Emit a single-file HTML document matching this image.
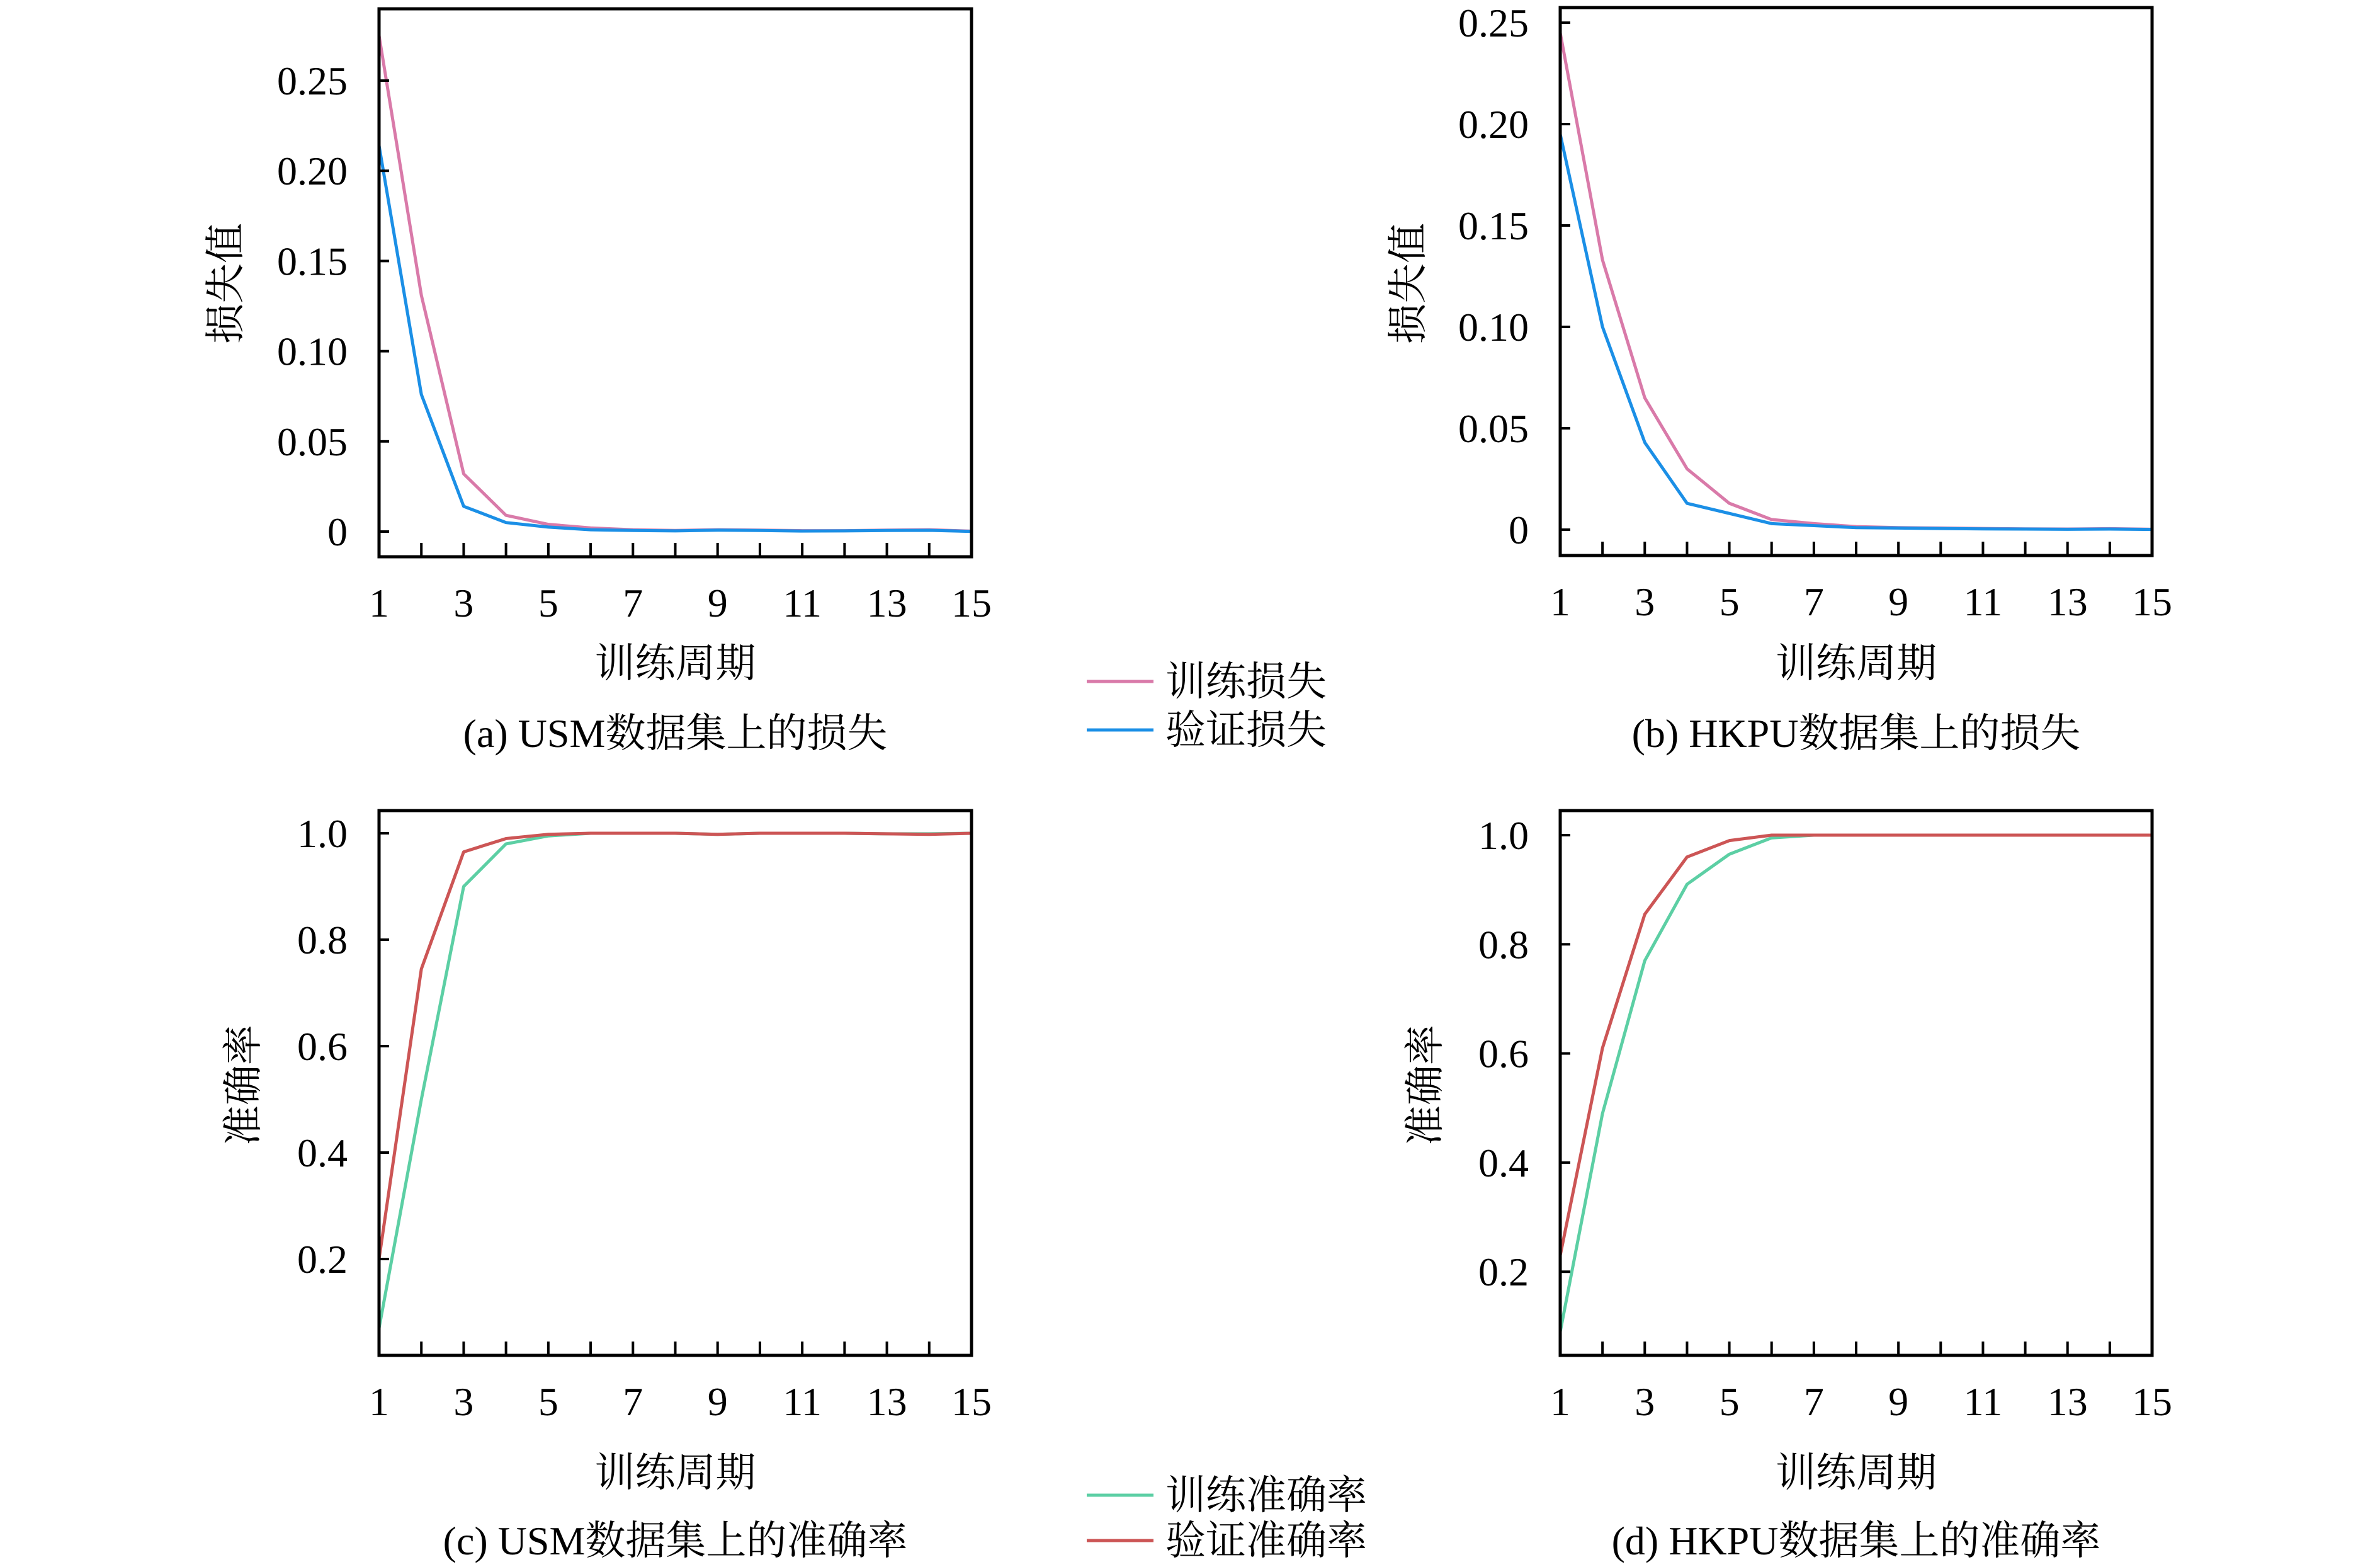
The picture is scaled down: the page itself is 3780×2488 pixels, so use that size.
<!DOCTYPE html>
<html><head><meta charset="utf-8"><style>
html,body{margin:0;padding:0;background:#fff;}
svg text{font-family:"Liberation Serif","Noto Serif CJK SC",serif;fill:#000;}
</style></head><body>
<svg id="s" width="3780" height="2483" xmlns="http://www.w3.org/2000/svg"></svg>
<script>
const S=document.getElementById('s');let h='';
function panel(o){
 const {x0,x1,y0,y1,yv0,pxPer,step,ticks,fmt,series,xlY,cap,capY,yl,ylX,ylY}=o;
 const X=e=>x0+(e-1)*(x1-x0)/14;
 const Y=v=>yv0-(v)*pxPer/step;
 series.forEach(s=>{h+=`<polyline fill="none" stroke="${s.c}" stroke-width="5" stroke-linejoin="round" points="${s.d.map((v,i)=>X(i+1)+','+Y(v)).join(' ')}"/>`;});
 h+=`<rect x="${x0}" y="${y0}" width="${x1-x0}" height="${y1-y0}" fill="none" stroke="#000" stroke-width="5"/>`;
 for(let e=2;e<=14;e++)h+=`<line x1="${X(e)}" x2="${X(e)}" y1="${y1}" y2="${y1-22}" stroke="#000" stroke-width="4"/>`;
 for(let e=1;e<=15;e+=2)h+=`<text x="${X(e)}" y="${(y1+95)}" font-size="64" text-anchor="middle">${e}</text>`;
 ticks.forEach(v=>{const y=Y(v);h+=`<line x1="${x0}" x2="${x0+16}" y1="${y}" y2="${y}" stroke="#000" stroke-width="4"/><text x="${x0-50}" y="${y+22}" font-size="64" text-anchor="end">${fmt(v)}</text>`;});
 h+=`<text x="${(x0+x1)/2}" y="${xlY}" font-size="64" text-anchor="middle">训练周期</text>`;
 h+=`<text x="${(x0+x1)/2}" y="${capY}" font-size="64" text-anchor="middle">${cap}</text>`;
 h+=`<text x="0" y="0" font-size="64" text-anchor="middle" transform="translate(${ylX},${ylY}) rotate(-90)">${yl}</text>`;
}
const P='#d97aa9',B='#1b8fe6',G='#5ccfa4',R='#cc5555';
const f2=v=>v==0?'0':v.toFixed(2), f1=v=>v.toFixed(1);
panel({x0:602,x1:1543,y0:14,y1:884,yv0:844,pxPer:143.2,step:0.05,ticks:[0,.05,.10,.15,.20,.25],fmt:f2,
 series:[{c:P,d:[0.275,0.131,0.032,0.009,0.004,0.002,0.001,0.0006,0.001,0.0008,0.0005,0.0005,0.0008,0.001,0.0002]},
 {c:B,d:[0.214,0.076,0.014,0.005,0.0025,0.001,0.0006,0.0004,0.0008,0.0006,0.0003,0.0004,0.0006,0.0007,0.0001]}],
 xlY:1075,cap:'(a) USM数据集上的损失',capY:1186,yl:'损失值',ylX:380,ylY:450});
panel({x0:2478,x1:3418,y0:12,y1:882,yv0:841,pxPer:161,step:0.05,ticks:[0,.05,.10,.15,.20,.25],fmt:f2,
 series:[{c:P,d:[0.245,0.133,0.065,0.03,0.013,0.005,0.003,0.0015,0.001,0.0008,0.0006,0.0004,0.0003,0.0005,0.0002]},
 {c:B,d:[0.195,0.1,0.043,0.013,0.008,0.003,0.002,0.001,0.0008,0.0006,0.0004,0.0003,0.0002,0.0003,0.0001]}],
 xlY:1075,cap:'(b) HKPU数据集上的损失',capY:1186,yl:'损失值',ylX:2258,ylY:450});
panel({x0:602,x1:1543,y0:1287,y1:2152,yv0:1323+5*169,pxPer:169,step:0.2,ticks:[.2,.4,.6,.8,1.0],fmt:f1,
 series:[{c:G,d:[0.07,0.5,0.9,0.98,0.995,1.0,1.0,1.0,0.998,1.0,1.0,1.0,0.999,0.999,1.0]},
 {c:R,d:[0.2,0.745,0.965,0.99,0.998,1.0,1.0,1.0,0.998,1.0,1.0,1.0,0.999,0.998,1.0]}],
 xlY:2360,cap:'(c) USM数据集上的准确率',capY:2468,yl:'准确率',ylX:408,ylY:1723});
panel({x0:2478,x1:3418,y0:1287,y1:2152,yv0:1326+5*173.3,pxPer:173.3,step:0.2,ticks:[.2,.4,.6,.8,1.0],fmt:f1,
 series:[{c:G,d:[0.09,0.49,0.77,0.91,0.965,0.995,1.0,1.0,1.0,1.0,1.0,1.0,1.0,1.0,1.0]},
 {c:R,d:[0.23,0.61,0.855,0.96,0.99,1.0,1.0,1.0,1.0,1.0,1.0,1.0,1.0,1.0,1.0]}],
 xlY:2360,cap:'(d) HKPU数据集上的准确率',capY:2468,yl:'准确率',ylX:2285,ylY:1723});
function leg(y,c,t){h+=`<line x1="1726" x2="1832" y1="${y}" y2="${y}" stroke="${c}" stroke-width="5"/><text x="1851" y="${y+22}" font-size="64">${t}</text>`;}
leg(1082,P,'训练损失');leg(1159,B,'验证损失');leg(2374,G,'训练准确率');leg(2446,R,'验证准确率');
S.innerHTML=h;
</script>
</body></html>
